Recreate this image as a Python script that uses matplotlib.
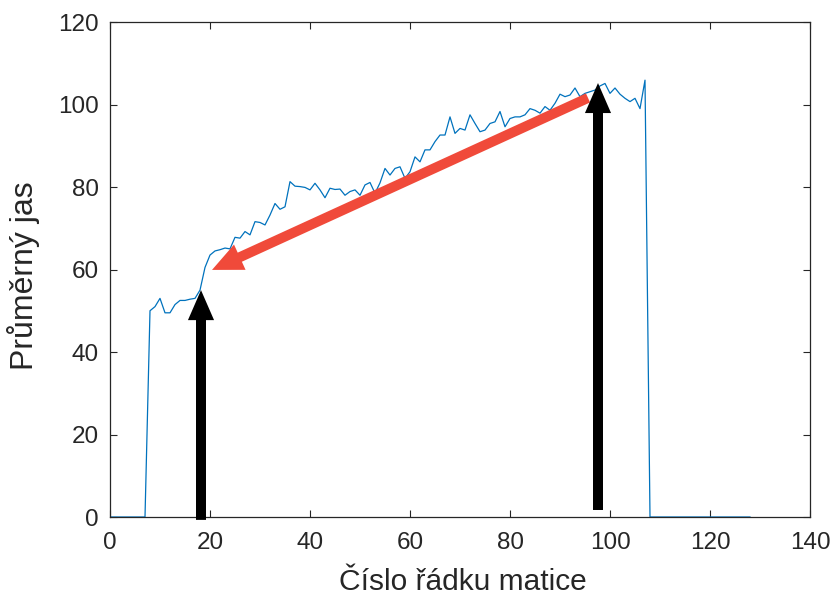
import numpy as np
import matplotlib
matplotlib.use("Agg")
import matplotlib.pyplot as plt

# Row index and mean brightness
rows = list(range(0, 129))
brightness = (
    [0, 0, 0, 0, 0, 0, 0, 0,
     50, 51, 53, 49.5, 49.5, 51.5, 52.5, 52.5, 52.8, 53, 55, 60.5,
     63.5, 64.5, 64.8, 65.2, 65, 67.8, 67.6, 69.2, 68.4, 71.6,
     71.4, 70.8, 73.2, 76, 74.6, 75.2, 81.3, 80.2, 80.1, 79.9,
     79.3, 80.9, 79.3, 77.4, 79.7, 79.4, 79.5, 78, 78.9, 79.3,
     78, 80.5, 81.1, 78.5, 81, 84.5, 82.9, 84.5, 84.9, 82.1,
     83.7, 87.3, 86.1, 89, 89, 91, 92.6, 92.6, 97, 93,
     94.2, 93.8, 97.5, 95.4, 93.4, 93.8, 95.4, 95.8, 98.3, 94.6,
     96.6, 97, 97, 97.5, 99, 98.6, 97.9, 99.5, 98.6, 100.3,
     102.5, 101.9, 102.3, 104, 101.9, 102.7, 103.1, 103.5, 104.5, 105.1,
     102.7, 104, 102.5, 101.5, 100.7, 101.5, 99, 105.9]
    + [0] * 21
)

# Arrows: (tail, tip)
black_arrows = [((18.2, -0.7), (18.2, 55.0)), ((97.6, 1.7), (97.6, 105.2))]
red_arrow = ((95.6, 101.6), (20.4, 59.9))

xticks = [0, 20, 40, 60, 80, 100, 120, 140]
yticks = [0, 20, 40, 60, 80, 100, 120]

plt.rcParams['font.family'] = ['Liberation Sans', 'DejaVu Sans']
txt = '#262626'

fig = plt.figure(figsize=(8.4, 6.06), dpi=100)
ax = fig.add_axes([110/840, 1 - 517/606, 700/840, 495/606])

ax.plot(rows, brightness, color='#0072BD', lw=0.9, zorder=2)

for tail, tip in black_arrows:
    ax.annotate('', xy=tip, xytext=tail, annotation_clip=False,
                arrowprops=dict(arrowstyle='simple,head_length=1.08,head_width=0.94,tail_width=0.36',
                                mutation_scale=20, color='black', lw=0,
                                shrinkA=0, shrinkB=0), zorder=4)
ax.annotate('', xy=red_arrow[1], xytext=red_arrow[0], annotation_clip=False,
            arrowprops=dict(arrowstyle='simple,head_length=1.1,head_width=1.0,tail_width=0.36',
                            mutation_scale=20, color='#F04A3A', lw=0,
                            shrinkA=0, shrinkB=0), zorder=3)

ax.set_xlim(0, 140)
ax.set_ylim(0, 120)
ax.set_xticks(xticks)
ax.set_yticks(yticks)
ax.tick_params(direction='in', top=True, right=True, length=5, width=0.8,
               labelsize=17.5, colors=txt, pad=8)
ax.tick_params(axis='x', pad=11)
for s in ax.spines.values():
    s.set_color('#262626')
    s.set_linewidth(0.9)

fig.text(462.5/840, 1 - 590/606, 'Číslo řádku matice', fontsize=21.5, color=txt,
         ha='center', va='baseline')
fig.text(24/840, 1 - 276/606, 'Průměrný jas', fontsize=23, color=txt,
         ha='center', va='center', rotation=90)

fig.savefig('out.png', dpi=100)
